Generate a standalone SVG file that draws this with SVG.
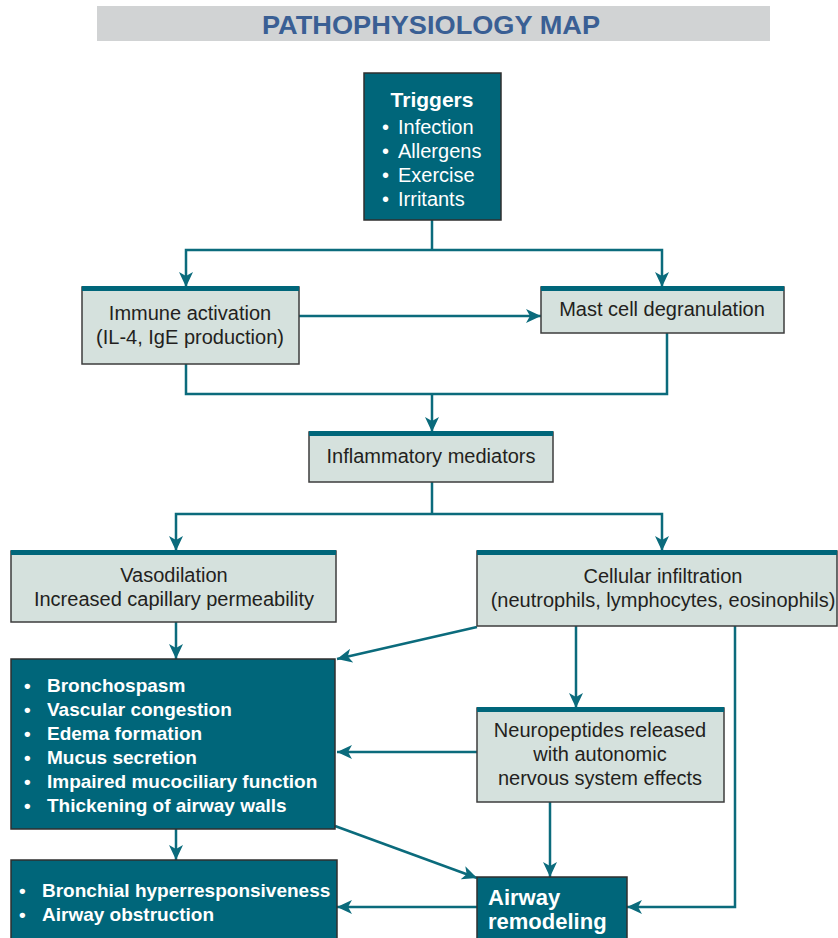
<svg xmlns="http://www.w3.org/2000/svg" width="838" height="938" viewBox="0 0 838 938">
<defs>
<marker id="ah" markerUnits="userSpaceOnUse" markerWidth="16" markerHeight="14" refX="15" refY="7" orient="auto">
<path d="M0,0 L15,7 L0,14 L4,7 Z" fill="#0b6b7c"/>
</marker>
<style>
.lbox{fill:#d5e1dd;stroke:#3d3d3d;stroke-width:1.5}
.bar{fill:#00667a}
.tbox{fill:#00667a;stroke:#2f2f2f;stroke-width:1.5}
.lt{font-family:"Liberation Sans",Arial,sans-serif;font-size:20px;fill:#231f20;text-anchor:middle}
.wt{font-family:"Liberation Sans",Arial,sans-serif;font-size:20px;fill:#ffffff}
.wb{font-family:"Liberation Sans",Arial,sans-serif;font-size:19px;font-weight:bold;fill:#ffffff}
.con{fill:none;stroke:#0b6b7c;stroke-width:2.5}
</style>
</defs>
<rect width="838" height="938" fill="#ffffff"/>
<g id="title">
<rect x="97" y="6" width="673" height="35" fill="#d1d3d4"/>
<text x="431" y="34" text-anchor="middle" font-family="'Liberation Sans',Arial,sans-serif" font-weight="bold" font-size="26" fill="#3a5f94" textLength="338" lengthAdjust="spacingAndGlyphs">PATHOPHYSIOLOGY MAP</text>
</g>
<g id="connectors">
<path class="con" d="M432,220 V250"/>
<path class="con" d="M432,250 H186 V287" marker-end="url(#ah)"/>
<path class="con" d="M432,250 H662 V287" marker-end="url(#ah)"/>
<path class="con" d="M299,316 H541" marker-end="url(#ah)"/>
<path class="con" d="M186,364 V394 H667 V333"/>
<path class="con" d="M432,394 V432" marker-end="url(#ah)"/>
<path class="con" d="M432,482 V514"/>
<path class="con" d="M432,514 H176 V551" marker-end="url(#ah)"/>
<path class="con" d="M432,514 H662 V551" marker-end="url(#ah)"/>
<path class="con" d="M176,622 V659" marker-end="url(#ah)"/>
<path class="con" d="M477,627 L337,659" marker-end="url(#ah)"/>
<path class="con" d="M576,626 V708" marker-end="url(#ah)"/>
<path class="con" d="M477,752 H337" marker-end="url(#ah)"/>
<path class="con" d="M550,802 V877" marker-end="url(#ah)"/>
<path class="con" d="M735,626 V907 H627" marker-end="url(#ah)"/>
<path class="con" d="M335,826 L477,878" marker-end="url(#ah)"/>
<path class="con" d="M176,829 V860" marker-end="url(#ah)"/>
<path class="con" d="M477,907 H337" marker-end="url(#ah)"/>
</g>
<g id="triggers">
<rect class="tbox" x="364" y="73" width="137" height="147"/>
<text x="432" y="107" text-anchor="middle" font-family="'Liberation Sans',Arial,sans-serif" font-size="21" font-weight="bold" fill="#fff">Triggers</text>
<text class="wt" x="382" y="134">•<tspan x="398">Infection</tspan></text>
<text class="wt" x="382" y="158">•<tspan x="398">Allergens</tspan></text>
<text class="wt" x="382" y="182">•<tspan x="398">Exercise</tspan></text>
<text class="wt" x="382" y="206">•<tspan x="398">Irritants</tspan></text>
</g>
<g id="immune">
<rect class="lbox" x="82" y="287" width="217" height="77"/>
<rect class="bar" x="82" y="286" width="217" height="5"/>
<text class="lt" x="190" y="320">Immune activation</text>
<text class="lt" x="190" y="344">(IL-4, IgE production)</text>
</g>
<g id="mast">
<rect class="lbox" x="541" y="287" width="243" height="46"/>
<rect class="bar" x="541" y="286" width="243" height="5"/>
<text class="lt" x="662" y="316">Mast cell degranulation</text>
</g>
<g id="inflammatory">
<rect class="lbox" x="309" y="432" width="244" height="50"/>
<rect class="bar" x="309" y="431" width="244" height="5"/>
<text class="lt" x="431" y="463">Inflammatory mediators</text>
</g>
<g id="vasodilation">
<rect class="lbox" x="11" y="551" width="325" height="71"/>
<rect class="bar" x="11" y="550" width="325" height="5"/>
<text class="lt" x="174" y="582">Vasodilation</text>
<text class="lt" x="174" y="606">Increased capillary permeability</text>
</g>
<g id="cellular">
<rect class="lbox" x="477" y="551" width="360" height="75"/>
<rect class="bar" x="477" y="550" width="360" height="5"/>
<text class="lt" x="663" y="583">Cellular infiltration</text>
<text class="lt" x="663" y="607">(neutrophils, lymphocytes, eosinophils)</text>
</g>
<g id="effects">
<rect class="tbox" x="11" y="659" width="324" height="170"/>
<text class="wb" x="24" y="692">•<tspan x="47">Bronchospasm</tspan></text>
<text class="wb" x="24" y="716">•<tspan x="47">Vascular congestion</tspan></text>
<text class="wb" x="24" y="740">•<tspan x="47">Edema formation</tspan></text>
<text class="wb" x="24" y="764">•<tspan x="47">Mucus secretion</tspan></text>
<text class="wb" x="24" y="788">•<tspan x="47">Impaired mucociliary function</tspan></text>
<text class="wb" x="24" y="812">•<tspan x="47">Thickening of airway walls</tspan></text>
</g>
<g id="neuropeptides">
<rect class="lbox" x="477" y="708" width="247" height="94"/>
<rect class="bar" x="477" y="707" width="247" height="5"/>
<text class="lt" x="600" y="737">Neuropeptides released</text>
<text class="lt" x="600" y="761">with autonomic</text>
<text class="lt" x="600" y="785">nervous system effects</text>
</g>
<g id="outcomes">
<rect class="tbox" x="11" y="860" width="326" height="80"/>
<text class="wb" x="19" y="897">•<tspan x="42">Bronchial hyperresponsiveness</tspan></text>
<text class="wb" x="19" y="921">•<tspan x="42">Airway obstruction</tspan></text>
</g>
<g id="remodeling">
<rect class="tbox" x="477" y="877" width="150" height="63"/>
<text x="488" y="905" font-family="'Liberation Sans',Arial,sans-serif" font-size="22" font-weight="bold" fill="#fff">Airway</text>
<text x="488" y="929" font-family="'Liberation Sans',Arial,sans-serif" font-size="22" font-weight="bold" fill="#fff">remodeling</text>
</g>
</svg>
